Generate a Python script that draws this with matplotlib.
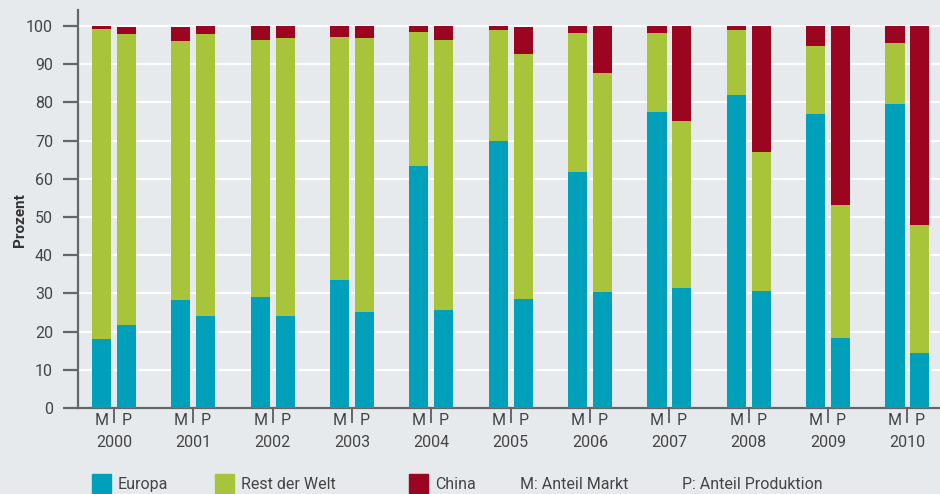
import numpy as np
import matplotlib.pyplot as plt
from matplotlib.patches import Rectangle

plt.rcParams["font.family"] = ["Roboto", "DejaVu Sans"]

years = ["2000", "2001", "2002", "2003", "2004", "2005",
         "2006", "2007", "2008", "2009", "2010"]

# M: Anteil Markt
markt_europa = [18.1, 28.4, 29.1, 33.6, 63.4, 69.9, 61.8, 77.5, 81.9, 77.0, 79.6]
markt_rest = [81.1, 67.7, 67.2, 63.5, 35.0, 29.0, 36.4, 20.7, 17.1, 17.8, 15.9]
markt_china = [0.8, 3.6, 3.7, 2.9, 1.6, 1.1, 1.8, 1.8, 1.0, 5.2, 4.5]

# P: Anteil Produktion
prod_europa = [21.8, 24.1, 24.1, 25.2, 25.7, 28.6, 30.4, 31.4, 30.6, 18.3, 14.4]
prod_rest = [76.1, 73.8, 72.7, 71.6, 70.6, 64.1, 57.3, 43.7, 36.4, 34.8, 33.5]
prod_china = [1.8, 2.1, 3.2, 3.2, 3.7, 6.9, 12.3, 24.9, 33.0, 46.9, 52.1]

c_europa = "#009fba"
c_rest = "#a8c43a"
c_china = "#9b0520"
bg = "#e7eaed"
txt = "#444444"
axcol = "#666666"

fig = plt.figure(figsize=(9.4, 4.94), dpi=100, facecolor=bg)
ax = fig.add_axes([0.083, 0.174, 0.917, 0.806], facecolor=bg)

x = np.arange(len(years))
off = 0.157
w = 0.24

for pos, eu, re, ch in [(x - off, markt_europa, markt_rest, markt_china),
                        (x + off, prod_europa, prod_rest, prod_china)]:
    eu = np.array(eu)
    re = np.array(re)
    ax.bar(pos, eu, w, color=c_europa, zorder=3)
    ax.bar(pos, re, w, bottom=eu, color=c_rest, zorder=3)
    ax.bar(pos, ch, w, bottom=eu + re, color=c_china, zorder=3)

ax.set_xlim(-0.454, 10.41)
ax.set_ylim(0, 104.2)
ax.set_yticks(np.arange(0, 101, 10))
ax.grid(axis="y", color="white", linewidth=1.5, zorder=0)
ax.set_axisbelow(True)

for s in ["top", "right"]:
    ax.spines[s].set_visible(False)
for s in ["left", "bottom"]:
    ax.spines[s].set_color(axcol)
    ax.spines[s].set_linewidth(1.6)

ax.tick_params(axis="y", length=11, width=1.6, color=axcol, pad=7,
               labelsize=11.5, labelcolor=txt)
ax.set_xticks(x)
ax.set_xticklabels([])
ax.tick_params(axis="x", length=11, width=1.4, color=axcol)

tr = ax.get_xaxis_transform()
for i, yr in enumerate(years):
    ax.text(x[i] - off, -0.032, "M", transform=tr, ha="center", va="center",
            fontsize=11.5, color=txt)
    ax.text(x[i] + off, -0.032, "P", transform=tr, ha="center", va="center",
            fontsize=11.5, color=txt)
    ax.text(x[i], -0.087, yr, transform=tr, ha="center", va="center",
            fontsize=11.5, color=txt)

ax.set_ylabel("Prozent", fontsize=11, fontweight="bold", color="#333333")
ax.yaxis.set_label_coords(-0.0592, 0.472)

# legend along the bottom edge
W, H = 940.0, 494.0
items = [(92, c_europa, "Europa"), (215, c_rest, "Rest der Welt"),
         (409, c_china, "China")]
for px, col, label in items:
    fig.patches.append(Rectangle((px / W, 1 / H), 19 / W, 19 / H, color=col,
                                 transform=fig.transFigure))
    fig.text((px + 26) / W, 10 / H, label, ha="left", va="center",
             fontsize=11.5, color=txt)
fig.text(520 / W, 10 / H, "M: Anteil Markt", ha="left", va="center",
         fontsize=11.5, color=txt)
fig.text(682 / W, 10 / H, "P: Anteil Produktion", ha="left", va="center",
         fontsize=11.5, color=txt)

fig.savefig("out.png", dpi=100, facecolor=bg)
